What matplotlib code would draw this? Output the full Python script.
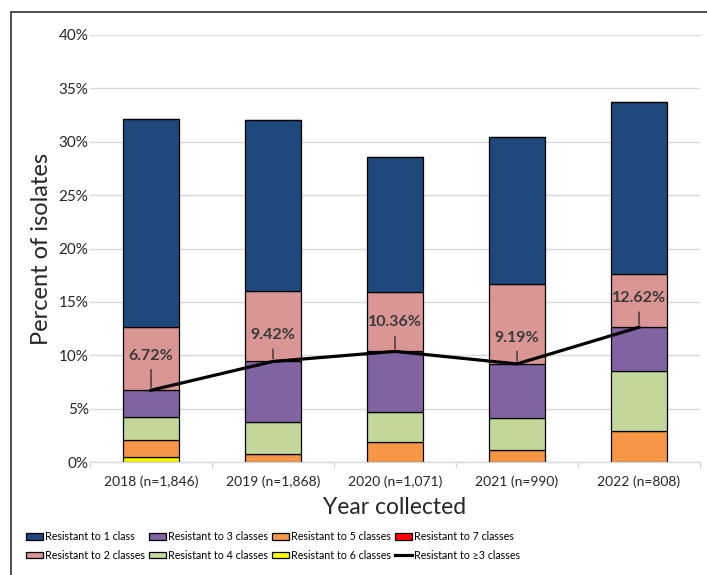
import matplotlib
matplotlib.use("Agg")
import matplotlib.pyplot as plt
import numpy as np
from matplotlib.patches import Rectangle

plt.rcParams['font.family'] = ['Lato', 'DejaVu Sans']

# Percent of isolates by number of resistant drug classes
years = ['2018 (n=1,846)', '2019 (n=1,868)', '2020 (n=1,071)', '2021 (n=990)', '2022 (n=808)']
res_1 = [19.48, 15.99, 12.67, 13.77, 16.14]
res_2 = [5.93, 6.63, 5.54, 7.48, 4.96]
res_3 = [2.52, 5.64, 5.65, 5.10, 4.10]
res_4 = [2.15, 3.03, 2.84, 2.97, 5.65]
res_5 = [1.60, 0.75, 1.87, 1.12, 2.87]
res_6 = [0.45, 0.0, 0.0, 0.0, 0.0]
res_7 = [0.0, 0.0, 0.0, 0.0, 0.0]
res_ge3 = [6.72, 9.42, 10.36, 9.19, 12.62]

fig = plt.figure(figsize=(7.07, 5.75), dpi=100)
ax = fig.add_axes([90 / 707, 1 - 462 / 575, 610 / 707, 427 / 575])

x = np.arange(len(years))
# stacked from the bottom up: 6, 5, 4, 3, 2, 1 classes, then 7 (never visible)
stack = [
    (res_6, '#FFFF00', 'Resistant to 6 classes'),
    (res_5, '#F79646', 'Resistant to 5 classes'),
    (res_4, '#C4D79B', 'Resistant to 4 classes'),
    (res_3, '#8064A2', 'Resistant to 3 classes'),
    (res_2, '#DA9694', 'Resistant to 2 classes'),
    (res_1, '#1F497D', 'Resistant to 1 class'),
    (res_7, '#FF0000', 'Resistant to 7 classes'),
]
bottom = np.zeros(len(years))
handles = {}
for vals, color, label in stack:
    vals = np.array(vals) / 100
    bars = ax.bar(x, vals, width=0.46, bottom=bottom, color=color,
                  edgecolor='black', linewidth=0.9, label=label, zorder=2)
    handles[label] = bars
    bottom += vals

ge3 = np.array(res_ge3) / 100
line, = ax.plot(x, ge3, color='black', linewidth=2.3, zorder=3,
                label='Resistant to \u22653 classes')
handles[line.get_label()] = line

label_offsets = [25, 19, 21, 19, 21]
for xi, v, off in zip(x, res_ge3, label_offsets):
    ax.annotate('', xy=(xi, v / 100), xytext=(0, off - 8), textcoords='offset points',
                arrowprops=dict(arrowstyle='-', color='#262626', lw=0.9), zorder=4)
    ax.annotate(f'{v:.2f}%', xy=(xi, v / 100), xytext=(0, off), textcoords='offset points',
                ha='center', va='center', fontsize=11.5, fontweight='bold',
                color='#3a3a3a', zorder=5)

ax.set_xlim(-0.5, len(years) - 0.5)
ax.set_ylim(0, 0.40)
ax.set_yticks(np.arange(0, 0.41, 0.05))
ax.set_yticklabels([f'{int(round(t * 100))}%' for t in np.arange(0, 0.41, 0.05)])
ax.set_xticks(x)
ax.set_xticklabels(years)
ax.set_xticks(np.arange(-0.5, len(years), 1.0), minor=True)
ax.tick_params(axis='x', which='major', length=0, pad=10, labelsize=10, labelcolor='#262626')
ax.tick_params(axis='x', which='minor', length=4, color='#D9D9D9', width=1)
ax.tick_params(axis='y', length=0, pad=1, labelsize=11, labelcolor='#262626')
ax.yaxis.grid(True, color='#D9D9D9', linewidth=1, zorder=0)
ax.set_axisbelow(True)
for side in ['top', 'right', 'left']:
    ax.spines[side].set_visible(False)
ax.spines['bottom'].set_color('#D9D9D9')
ax.spines['bottom'].set_linewidth(1)

ax.set_ylabel('Percent of isolates', fontsize=17, color='#262626', labelpad=5)
ax.set_xlabel('Year collected', fontsize=16.5, color='#262626', labelpad=6)

order = ['Resistant to 1 class', 'Resistant to 2 classes',
         'Resistant to 3 classes', 'Resistant to 4 classes',
         'Resistant to 5 classes', 'Resistant to 6 classes',
         'Resistant to 7 classes', 'Resistant to \u22653 classes']
fig.legend([handles[k] for k in order], order, ncol=4, loc='center',
           bbox_to_anchor=(273 / 707, 1 - 546 / 575), frameon=False,
           fontsize=7.7, handlelength=1.6, handleheight=0.6, handletextpad=0.1,
           columnspacing=0.45, labelspacing=0.72, borderaxespad=0)

# outer frame around the chart
fig.patches.append(Rectangle((11 / 707, -0.05), 1.0, 1 - 12 / 575 + 0.05,
                             transform=fig.transFigure, fill=False,
                             edgecolor='#404040', linewidth=1.3))

fig.savefig('out.png', dpi=100)
